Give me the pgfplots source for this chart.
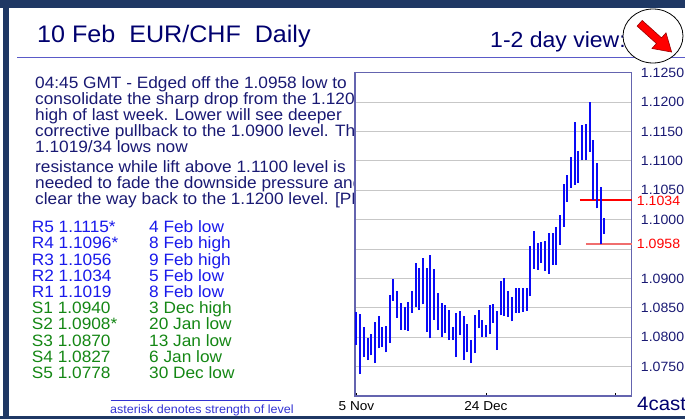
\documentclass[border=0pt]{standalone}
\usepackage{fontspec}
\setmainfont[FakeStretch=1.05]{Liberation Sans}
\newfontfamily\bodyfont[FakeStretch=1.05]{Liberation Sans}
\usepackage{pgfplots}
\pgfplotsset{compat=1.18}
\usepackage{pgfplotstable}

\definecolor{framec}{RGB}{31,56,100}
\definecolor{navy}{RGB}{0,0,110}
\definecolor{txt}{RGB}{25,25,115}
\definecolor{rblue}{RGB}{25,25,235}
\definecolor{sgreen}{RGB}{20,135,20}
\definecolor{rulec}{RGB}{90,90,200}
\definecolor{axisc}{RGB}{100,100,175}
\definecolor{barblue}{RGB}{10,10,245}
\definecolor{levelB}{RGB}{240,110,110}
\definecolor{notec}{RGB}{50,50,210}

\pgfplotstableread{
i lo hi
0 1.0787 1.0843
1 1.0737 1.0839
2 1.0766 1.0818
3 1.0761 1.0799
4 1.0769 1.0805
5 1.0756 1.0826
6 1.0781 1.0836
7 1.0783 1.0818
8 1.0774 1.0819
9 1.0790 1.0871
10 1.0862 1.0899
11 1.0833 1.0879
12 1.0813 1.0859
13 1.0812 1.0852
14 1.0811 1.0860
15 1.0842 1.0879
16 1.0852 1.0927
17 1.0846 1.0917
18 1.0856 1.0934
19 1.0809 1.0917
20 1.0798 1.0940
21 1.0830 1.0916
22 1.0812 1.0876
23 1.0800 1.0858
24 1.0807 1.0854
25 1.0795 1.0846
26 1.0795 1.0818
27 1.0766 1.0842
28 1.0804 1.0845
29 1.0761 1.0836
30 1.0774 1.0822
31 1.0756 1.0796
32 1.0773 1.0838
33 1.0815 1.0846
34 1.0800 1.0829
35 1.0800 1.0821
36 1.0805 1.0855
37 1.0825 1.0856
38 1.0778 1.0845
39 1.0837 1.0896
40 1.0836 1.0900
41 1.0835 1.0879
42 1.0827 1.0869
43 1.0842 1.0884
44 1.0842 1.0884
45 1.0843 1.0883
46 1.0845 1.0883
47 1.0870 1.0955
48 1.0916 1.0981
49 1.0915 1.0961
50 1.0927 1.0962
51 1.0913 1.0964
52 1.0908 1.0978
53 1.0923 1.0977
54 1.0923 1.0987
55 1.0957 1.1008
56 1.0988 1.1061
57 1.1030 1.1076
58 1.1054 1.1107
59 1.1059 1.1166
60 1.1063 1.1117
61 1.1101 1.1161
62 1.1101 1.1163
63 1.1115 1.1200
64 1.1034 1.1135
65 1.1019 1.1096
66 1.0958 1.1056
67 1.0976 1.1002
}\bars

\begin{document}
\begin{tikzpicture}[x=1bp,y=1bp]
% frame
\fill[framec] (0,410.5) rectangle (685,419);
\fill[framec] (3,0) rectangle (9,419);
\fill[framec] (0,0) rectangle (685,3.5);
% title
\node[anchor=base west, inner sep=0, text=navy, font=\fontsize{24}{24}\selectfont] at (37,377) {10 Feb\ \ EUR/CHF\ \ Daily};
\node[anchor=base west, inner sep=0, text=navy, font=\fontsize{22}{22}\selectfont] at (490,372) {1-2 day view:};
\draw[rulec, line width=1.5] (17,361.5) -- (685,361.5);
% circle with arrow
\draw[black, line width=0.8, fill=white] (653,383) ellipse [x radius=30, y radius=27];
\begin{scope}[shift={(656,381)}, rotate=-42]
\filldraw[fill=red, draw=red!60!black, line width=0.6] (-22,3.8) -- (4,3.8) -- (4,10.5) -- (21,0) -- (4,-10.5) -- (4,-3.8) -- (-22,-3.8) -- cycle;
\end{scope}
% body text
\begin{scope}[every node/.style={anchor=base west, inner sep=0, text=txt, font=\bodyfont\fontsize{16.5}{16}\selectfont}]
\node at (35,330.7) {04:45 GMT - Edged off the 1.0958 low to};
\node at (35,314.7) {consolidate the sharp drop from the 1.1200};
\node at (35,298.7) {high of last week. Lower will see deeper};
\node at (35,282.7) {corrective pullback to the 1.0900 level. There};
\node at (35,266.7) {1.1019/34 lows now};
\node at (35,246.7) {resistance while lift above 1.1100 level is};
\node at (35,230.7) {needed to fade the downside pressure and};
\node at (35,214.7) {clear the way back to the 1.1200 level. [PL]};
\end{scope}
% levels
\begin{scope}[every node/.style={anchor=base west, inner sep=0, font=\bodyfont\fontsize{16.5}{16}\selectfont}]
\node[text=rblue] at (31.7,186.3) {R5 1.1115*};
\node[text=rblue] at (31.7,170.1) {R4 1.1096*};
\node[text=rblue] at (31.7,153.9) {R3 1.1056};
\node[text=rblue] at (31.7,137.7) {R2 1.1034};
\node[text=rblue] at (31.7,121.5) {R1 1.1019};
\node[text=sgreen] at (31.7,105.3) {S1 1.0940};
\node[text=sgreen] at (31.7,89.1) {S2 1.0908*};
\node[text=sgreen] at (31.7,72.9) {S3 1.0870};
\node[text=sgreen] at (31.7,56.7) {S4 1.0827};
\node[text=sgreen] at (31.7,40.5) {S5 1.0778};
\node[text=rblue] at (149,186.3) {4 Feb low};
\node[text=rblue] at (149,170.1) {8 Feb high};
\node[text=rblue] at (149,153.9) {9 Feb high};
\node[text=rblue] at (149,137.7) {5 Feb low};
\node[text=rblue] at (149,121.5) {8 Feb low};
\node[text=sgreen] at (149,105.3) {3 Dec high};
\node[text=sgreen] at (149,89.1) {20 Jan low};
\node[text=sgreen] at (149,72.9) {13 Jan low};
\node[text=sgreen] at (149,56.7) {6 Jan low};
\node[text=sgreen] at (149,40.5) {30 Dec low};
\end{scope}
\draw[notec, line width=0.7] (110.7,18.3) -- (281,18.3);
\node[anchor=base west, inner sep=0, text=notec, font=\bodyfont\fontsize{12}{12}\selectfont] at (110,6) {asterisk denotes strength of level};
\node[anchor=base west, inner sep=0, text=navy, font=\fontsize{19.5}{19.5}\selectfont] at (637,9) {4cast};
% chart
\begin{axis}[
  at={(355bp,23bp)}, anchor=south west, scale only axis,
  width=276.7bp, height=323.4bp,
  xmin=-0.4, xmax=74.4, ymin=1.07, ymax=1.125,
  clip=false,
  axis background/.style={fill=white},
  axis line style={axisc, line width=1.3bp},
  ymajorgrids, grid style={black!22, line width=0.9bp},
  ytick={1.075,1.08,1.085,1.09,1.095,1.1,1.105,1.11,1.115,1.12,1.125},
  yticklabels={1.0750,1.0800,1.0850,1.0900,{},1.1000,1.1050,1.1100,1.1150,1.1200,1.1250},
  yticklabel pos=right, ytick pos=right,
  y tick style={draw=none},
  yticklabel style={anchor=west, inner sep=0pt, xshift=9bp, text=txt, font=\fontsize{13.5}{13.5}\selectfont},
  xtick={0,35,70}, xticklabels={5 Nov,24 Dec,{}},
  xtick pos=bottom, tick align=inside, major tick length=3bp,
  x tick style={black, line width=0.8bp},
  xticklabel style={anchor=north, inner sep=0pt, yshift=-5.5bp, text=black, font=\fontsize{13}{13}\selectfont},
]
\addplot[color=red, mark=none, line width=1.8bp, forget plot] coordinates {(60.4,1.1034) (74.4,1.1034)};
\addplot[color=levelB, mark=none, line width=1.8bp, forget plot] coordinates {(62,1.0958) (74.4,1.0958)};
\addplot[draw=none, mark=none,
  error bars/.cd, y dir=plus, y explicit, error mark=none,
  error bar style={draw=barblue, line width=2bp}]
  table[x=i, y=lo, y error expr=\thisrow{hi}-\thisrow{lo}] {\bars};
\node[anchor=west, inner sep=0, text=red, font=\fontsize{13.5}{13.5}\selectfont, xshift=5bp, yshift=-1bp] at (axis cs:74.4,1.1034) {1.1034};
\node[anchor=west, inner sep=0, text=red, font=\fontsize{13.5}{13.5}\selectfont, xshift=5bp] at (axis cs:74.4,1.0958) {1.0958};
\end{axis}
\pgfresetboundingbox
\path[use as bounding box] (0,0) rectangle (685,419);
\end{tikzpicture}
\end{document}
